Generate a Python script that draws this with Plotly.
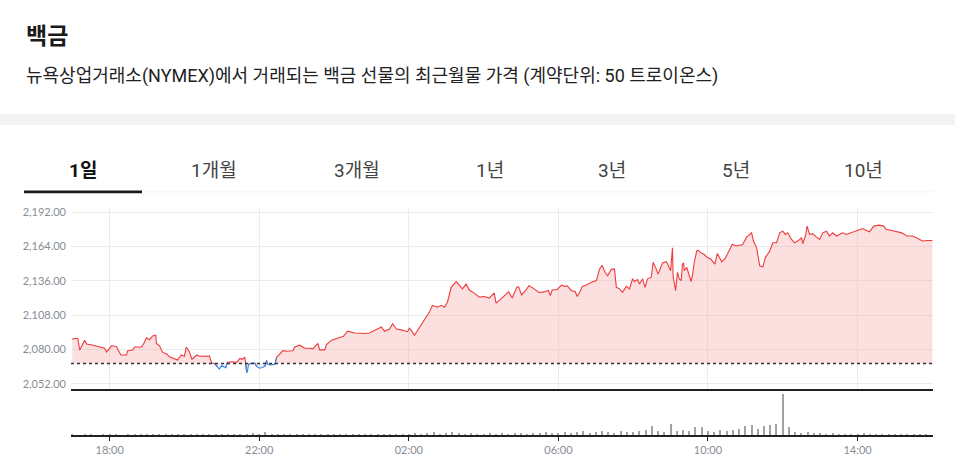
import numpy as np
import plotly.graph_objects as go

W, H = 955, 467

# ---------------- data ----------------
times = [
    "17:00","17:02","17:09","17:12","17:20","17:23","17:32","17:44","17:52","17:55",
    "18:03","18:11","18:18","18:27","18:29","18:37","18:40","18:51","18:55","18:59",
    "19:04","19:09","19:14","19:15","19:20","19:25","19:31","19:36","19:44","19:49",
    "19:55","20:00","20:03","20:08","20:12","20:20","20:24","20:28","20:32","20:40",
    "20:44","20:48","20:53","20:56","21:00","21:04","21:06","21:09","21:16","21:24",
    "21:29","21:33","21:37","21:38","21:40","21:41","21:43","21:48","21:53","21:56",
    "22:01","22:05","22:09","22:12","22:13","22:17","22:25","22:28","22:38","22:44",
    "22:54","22:57","23:05","23:13","23:21","23:26","23:34","23:37","23:45","23:48",
    "23:56","00:06","00:15","00:22","00:33","00:44","00:49","00:57","01:05","01:10",
    "01:16","01:21","01:29","01:34","01:40","01:48","01:53","01:58","02:01","02:04",
    "02:09","02:14","02:20","02:28","02:33","02:38","02:46","02:52","02:57","03:02",
    "03:08","03:16","03:21","03:26","03:32","03:37","03:45","03:53","04:01","04:09",
    "04:17","04:20","04:28","04:36","04:40","04:46","04:53","04:56","05:01","05:07",
    "05:13","05:18","05:25","05:29","05:37","05:44","05:47","05:50","05:58","06:05",
    "06:10","06:14","06:21","06:27","06:30","06:34","06:38","06:45","06:53","07:01",
    "07:06","07:10","07:15","07:19","07:25","07:30","07:33","07:38","07:43","07:49",
    "07:54","07:59","08:02","08:07","08:10","08:15","08:19","08:23","08:29","08:32",
    "08:37","08:40","08:47","08:53","08:55","09:00","09:03","09:04","09:08","09:11",
    "09:14","09:17","09:19","09:21","09:22","09:26","09:30","09:33","09:35","09:38",
    "09:42","09:44","09:50","09:54","09:59","10:04","10:11","10:15","10:22","10:27",
    "10:31","10:39","10:46","10:51","10:55","11:02","11:10","11:13","11:18","11:23",
    "11:28","11:32","11:39","11:44","11:50","11:55","12:00","12:04","12:08","12:14",
    "12:19","12:24","12:30","12:32","12:37","12:39","12:43","12:48","12:54","12:59",
    "13:04","13:10","13:15","13:20","13:26","13:31","13:36","13:42","13:50","13:58",
    "14:08","14:14","14:19","14:26","14:35","14:42","14:46","14:55","15:03","15:11",
    "15:19","15:28","15:36","15:44","15:52","16:00",
]
prices = [
    2088.0,2089.0,2089.0,2079.5,2087.6,2084.5,2083.6,2082.0,2081.0,2078.0,
    2083.0,2082.5,2075.5,2075.5,2079.0,2079.5,2082.0,2082.0,2085.0,2089.5,
    2088.0,2091.0,2091.6,2085.0,2083.0,2077.6,2076.5,2074.0,2072.7,2071.4,
    2075.5,2074.5,2082.0,2078.0,2072.0,2075.5,2074.5,2074.5,2075.0,2074.7,
    2068.7,2068.7,2066.0,2064.0,2067.0,2066.0,2065.0,2069.5,2070.0,2069.5,
    2072.7,2072.0,2073.6,2068.7,2061.0,2062.0,2068.0,2068.7,2068.7,2066.0,
    2064.7,2065.2,2066.2,2071.0,2068.0,2067.4,2067.8,2073.6,2079.0,2078.5,
    2079.0,2082.0,2083.5,2081.0,2081.0,2080.5,2085.0,2079.7,2079.7,2084.0,
    2087.6,2089.0,2090.8,2094.9,2093.5,2093.2,2093.0,2093.5,2095.6,2096.5,
    2098.4,2094.9,2096.7,2101.0,2096.7,2096.0,2095.5,2094.5,2097.3,2095.6,
    2091.6,2095.6,2099.7,2106.5,2110.5,2116.0,2114.5,2116.0,2114.4,2118.6,
    2130.7,2135.4,2132.0,2129.4,2133.4,2128.5,2126.0,2122.7,2123.2,2122.0,
    2126.2,2117.8,2121.3,2125.3,2127.0,2122.0,2130.7,2131.3,2124.5,2128.0,
    2132.0,2130.5,2128.0,2126.5,2127.0,2128.2,2124.0,2128.5,2129.0,2132.6,
    2131.5,2132.0,2128.0,2127.3,2123.2,2126.5,2131.3,2132.6,2134.8,2136.2,
    2145.6,2148.8,2142.8,2140.2,2145.6,2145.6,2130.7,2129.5,2126.7,2131.5,
    2129.5,2137.7,2135.5,2137.0,2133.5,2137.7,2130.7,2137.7,2139.0,2151.2,
    2145.6,2141.5,2150.6,2151.6,2150.2,2144.3,2163.0,2140.2,2128.0,2143.0,
    2137.5,2136.2,2149.6,2150.6,2144.3,2147.0,2140.2,2135.5,2140.0,2151.2,
    2160.4,2161.0,2158.5,2157.5,2155.0,2154.0,2149.6,2158.3,2151.5,2154.0,
    2157.7,2165.8,2164.5,2165.3,2165.3,2171.7,2175.2,2168.5,2163.0,2148.3,
    2147.5,2155.0,2160.4,2167.1,2167.1,2175.2,2176.6,2173.9,2175.2,2169.8,
    2167.1,2168.5,2171.2,2166.3,2173.9,2180.7,2173.9,2174.5,2171.7,2169.8,
    2175.2,2176.6,2172.6,2175.2,2172.6,2173.9,2175.2,2173.9,2175.2,2176.6,
    2178.7,2177.1,2176.0,2180.7,2181.5,2180.7,2177.9,2177.1,2176.0,2175.2,
    2172.6,2172.6,2170.7,2168.5,2169.0,2169.0,
]
prev_close = 2068.5

vol_times = [f"{(17 + i // 6) % 24:02d}:{(i % 6) * 10:02d}" for i in range(138)]
volumes = [
    1,0,1,1,0,1,   1,1,0,1,1,1,   1,1,2,1,1,1,   1,1,2,1,1,2,
    1,2,1,2,2,3,   2,4,2,1,1,2,   1,1,2,1,2,2,   1,2,1,1,2,1,
    1,2,2,1,2,2,   2,3,2,3,4,2,   3,4,3,2,3,2,   2,3,2,3,2,3,
    3,2,3,3,4,3,   3,4,3,4,5,3,   4,5,4,3,5,4,   4,5,6,9,5,4,
    11,5,6,5,8,8,  5,4,6,5,6,7,   9,10,7,9,10,11, 41,8,4,3,4,3,
    3,2,3,2,2,2,   2,3,2,2,1,2,   2,1,2,1,2,2,
]

y_ticks = [2052, 2080, 2108, 2136, 2164, 2192]
x_ticks = ["18:00", "22:00", "02:00", "06:00", "10:00", "14:00"]
tabs = ["1일", "1개월", "3개월", "1년", "3년", "5년", "10년"]
title = "백금"
subtitle = "뉴욕상업거래소(NYMEX)에서 거래되는 백금 선물의 최근월물 가격 (계약단위: 50 트로이온스)"


def to_dt(hhmm):
    h = int(hhmm[:2])
    day = "2024-01-01" if h >= 17 else "2024-01-02"
    return f"{day} {hhmm}"


tx = [to_dt(t) for t in times]
vx = [to_dt(t) for t in vol_times]
tick_x = [to_dt(t) for t in x_ticks]
p = np.array(prices)

# ---------------- geometry helpers ----------------
def px(x):
    return x / W


def py(y):
    return 1 - y / H


RED = "#ee3b3b"
BLUE = "#2e8be8"
PINK = "rgba(245,160,160,0.33)"
LBLUE = "rgba(46,139,232,0.10)"

fig = go.Figure()

upper = np.maximum(p, prev_close)
lower = np.minimum(p, prev_close)
base = [prev_close] * len(p)

fig.add_trace(go.Scatter(x=tx, y=base, mode="lines", line=dict(width=0),
                         hoverinfo="skip", showlegend=False))
fig.add_trace(go.Scatter(x=tx, y=upper, mode="lines", line=dict(width=0),
                         fill="tonexty", fillcolor=PINK, hoverinfo="skip", showlegend=False))
fig.add_trace(go.Scatter(x=tx, y=base, mode="lines", line=dict(width=0),
                         hoverinfo="skip", showlegend=False))
fig.add_trace(go.Scatter(x=tx, y=lower, mode="lines", line=dict(width=0),
                         fill="tonexty", fillcolor=LBLUE, hoverinfo="skip", showlegend=False))

above = p >= prev_close
n = len(p)
red_y, blue_y = [], []
for i in range(n):
    nb = [j for j in (i - 1, i, i + 1) if 0 <= j < n]
    red_y.append(prices[i] if any(above[j] for j in nb) else None)
    blue_y.append(prices[i] if any(not above[j] for j in nb) else None)

fig.add_trace(go.Scatter(x=tx, y=red_y, mode="lines", line=dict(color=RED, width=1.1),
                         connectgaps=False, showlegend=False))
fig.add_trace(go.Scatter(x=tx, y=blue_y, mode="lines", line=dict(color=BLUE, width=1.1),
                         connectgaps=False, showlegend=False))

fig.add_trace(go.Bar(x=vx, y=volumes, marker=dict(color="#a3a3a3", line=dict(width=0)),
                     width=110000, xaxis="x2", yaxis="y2", showlegend=False))

x0, x1 = px(71), px(933)
xr = ["2024-01-01 16:58", "2024-01-02 16:01"]
grid = "#ececec"
tickfont = dict(family="Lato, Roboto, sans-serif", size=11, color="#878c95")

fig.update_layout(
    width=W, height=H,
    margin=dict(l=0, r=0, t=0, b=0),
    paper_bgcolor="white", plot_bgcolor="white",
    bargap=0,
    xaxis=dict(domain=[x0, x1], range=xr, type="date", tickvals=tick_x,
               showticklabels=False, showgrid=True, gridcolor=grid, gridwidth=1,
               showline=True, linecolor="#222", linewidth=1.5, zeroline=False,
               fixedrange=True),
    yaxis=dict(domain=[py(389), py(207)], range=[2048, 2195.3], tickvals=y_ticks,
               tickformat=",.2f", tickfont=tickfont, showgrid=True, gridcolor=grid,
               zeroline=False, showline=False, ticks="", ticklabelstandoff=4),
    xaxis2=dict(domain=[x0, x1], range=xr, type="date", anchor="y2",
                tickvals=tick_x, ticktext=x_ticks, tickfont=tickfont,
                showgrid=False, showline=True, linecolor="#222", linewidth=1.5,
                ticks="outside", ticklen=4, tickcolor="#222", tickwidth=1,
                zeroline=False),
    yaxis2=dict(domain=[py(436), py(389)], range=[0, 46], anchor="x2",
                showticklabels=False, showgrid=False, zeroline=False, showline=False),
)

# previous close dotted line
fig.add_shape(type="line", xref="x", yref="y", x0=xr[0], x1=xr[1],
              y0=prev_close, y1=prev_close, line=dict(color="#333", width=1.5, dash="dot"))

# gray band
fig.add_shape(type="rect", xref="paper", yref="paper", x0=0, x1=1,
              y0=py(123), y1=py(112), fillcolor="#f2f3f5", line=dict(width=0), layer="below")

# tabs underline
fig.add_shape(type="line", xref="paper", yref="paper", x0=px(142), x1=px(933),
              y0=py(190.5), y1=py(190.5), line=dict(color="#f3f3f3", width=1))
fig.add_shape(type="rect", xref="paper", yref="paper", x0=px(24), x1=px(142),
              y0=py(192), y1=py(189), fillcolor="#1a1a1a", line=dict(width=0))

# title/subtitle
fig.add_annotation(text=f"<b>{title}</b>", x=px(24), y=py(31), xref="paper", yref="paper",
                   xanchor="left", yanchor="middle", showarrow=False,
                   font=dict(family="Noto Sans CJK KR", size=23, color="#1a1a1a"))
fig.add_annotation(text=subtitle, x=px(24), y=py(74), xref="paper", yref="paper",
                   xanchor="left", yanchor="middle", showarrow=False,
                   font=dict(family="Roboto, Noto Sans CJK KR", size=18, color="#222"))

tab_x = [83, 214, 357, 490, 612, 736, 863]
for i, (t, cx) in enumerate(zip(tabs, tab_x)):
    fig.add_annotation(
        text=f"<b>{t}</b>" if i == 0 else t, x=px(cx), y=py(169),
        xref="paper", yref="paper", xanchor="center", yanchor="middle", showarrow=False,
        font=dict(family="Roboto, Noto Sans CJK KR", size=19,
                  color="#111" if i == 0 else "#444"))

fig.write_html("out.html")
